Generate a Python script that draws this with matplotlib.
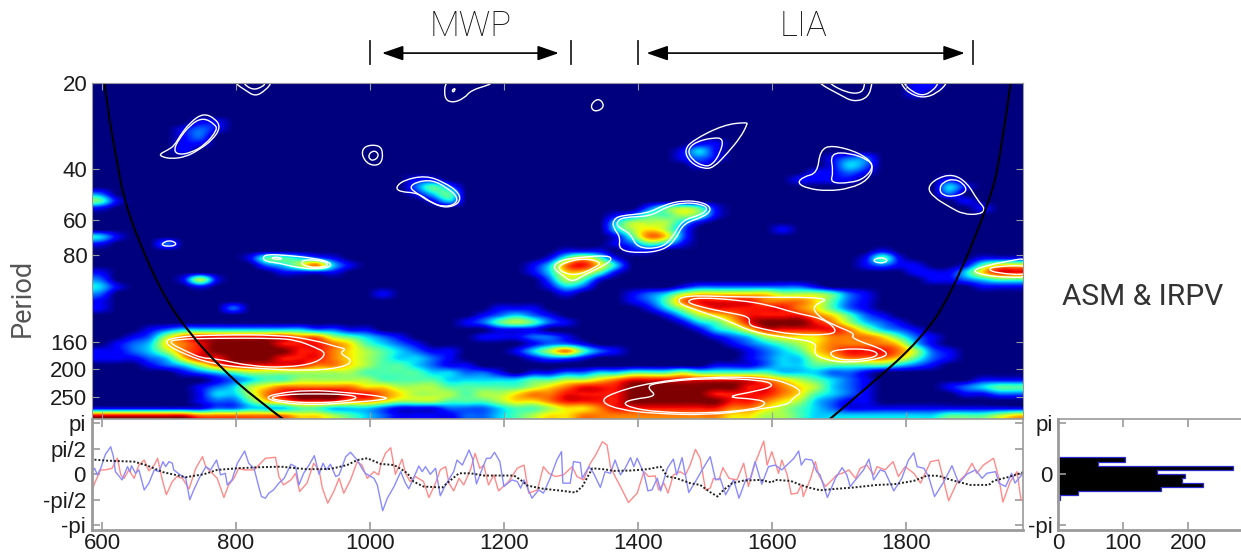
import numpy as np
import matplotlib
matplotlib.use("Agg")
import matplotlib.pyplot as plt
from matplotlib.path import Path
from matplotlib.patches import PathPatch

plt.rcParams["font.family"] = ["Liberation Sans", "DejaVu Sans"]

# wavelet power on a 56 x 47 grid, one digit per cell, 0 = dark blue, 9 = dark red
power_rows = [
    "00000000 00000000 00000000 00000000 00000000 00000000 01100000",
    "00000000 00000000 00000000 00000000 00000000 00000000 01000000",
    "00000000 00000000 00000000 00000000 00000000 00000000 00000000",
    "00000000 00000000 00000000 00000000 00000000 00000000 00000000",
    "00000000 00000000 00000000 00000000 00000000 00000000 00000000",
    "00000011 00000000 00000000 00000000 00000000 00000000 00000000",
    "00000121 00000000 00000000 00000000 00000000 00000000 00000000",
    "00000120 00000000 00000000 00000000 00000000 00000000 00000000",
    "00000110 00000000 00000000 00000000 00001100 00000000 00000000",
    "00000100 00000000 00000000 00000000 00013100 00000000 00000000",
    "00000000 00000000 00000000 00000000 00012100 00001220 00000000",
    "00000000 00000000 00000000 00000000 00001000 00001320 00000000",
    "00000000 00000000 00000000 00000000 00000000 00011210 00000000",
    "00000000 00000000 00011000 00000000 00000000 00111100 00010000",
    "00000000 00000000 00024200 00000000 00000000 00000000 00031000",
    "20000000 00000000 00013400 00000000 00000000 00000000 00020000",
    "41000000 00000000 00001300 00000000 00000000 00000000 00001000",
    "10000000 00000000 00000000 00000000 02454100 00000000 00000100",
    "00000000 00000000 00000000 00000001 24454100 00000000 00000000",
    "00000000 00000000 00000000 00000003 55531000 00000000 00000000",
    "00000000 00000000 00000000 00000003 56520000 01000000 00000000",
    "31000000 00000000 00000000 00000001 47620000 00000000 00000000",
    "10002000 00000000 00000000 00000001 24310000 00000000 00000000",
    "00000000 00000000 00000000 00001110 11000000 00000001 00000000",
    "00000000 01443210 00000000 00014641 00000000 00000014 10000111",
    "00000000 00235731 00000000 00137863 00000000 00000012 11001466",
    "10000000 00011110 00000000 00136641 00000000 00000000 01113688",
    "20000151 00000000 00000000 00025410 00000000 00000000 00112344",
    "31000010 00000000 00000000 00013200 00012222 22210000 00000111",
    "20000000 00000000 01000000 00001000 12356666 65554210 00000000",
    "10000000 00000000 00000000 00000000 12478888 77764210 00000000",
    "10000000 20000000 00000000 11100000 01357888 88764210 00000000",
    "00000000 00000000 00000001 23210000 00135678 88876421 00000000",
    "00000000 00000000 00000012 45421000 00013468 99987532 10000000",
    "00012333 33333221 10000000 11100000 00001346 88888753 21000000",
    "00125788 88887754 32100001 11221000 00000123 56667776 42100000",
    "01236789 99988876 43210000 00122100 00000012 34567777 63100000",
    "11235789 99998876 54321100 01357421 00000001 23467888 75210000",
    "11123688 99988876 54332100 00122100 00000001 23356777 64210000",
    "00012357 88888776 54432110 00000000 00000111 23344444 32100000",
    "00000123 45555555 44443322 10112233 44454444 43332210 00000000",
    "00000001 23445555 54444333 33445567 88888888 76543210 00000111",
    "00000012 35677777 66555444 44567888 99999998 87653210 00012344",
    "00000013 35789998 87655545 56778888 99999888 87643210 00001122",
    "00000012 24678887 76555444 56678888 99999988 76532110 00000000",
    "11111112 23334433 32111222 34456678 88888877 65432111 11111111",
    "88888877 77776654 32111122 34566777 77777766 55433333 33344456",
]

# significance contours, (years, periods)
ring_a_out = ([686, 698, 708, 717, 732, 751, 769, 777, 765, 744, 725, 704, 689],
              [35.4, 34.3, 33.1, 30.4, 27.4, 25.5, 26.6, 28.6, 31.6, 34.3, 36.2, 36.8, 36.2])
ring_a_in = ([707, 714, 732, 751, 769, 772, 754, 732, 714],
             [34.3, 31.6, 27.9, 26.4, 27.9, 29.2, 32.9, 35.1, 35.6])
ring_t1_out = ([798, 798, 814, 829, 844, 853, 853], [19, 20, 21.2, 22.3, 21.2, 20, 19])
ring_t1_in = ([810, 810, 825, 840, 844, 844], [19, 20, 21.2, 20.6, 20, 19])
ring_t2_out = ([1114, 1110, 1123, 1141, 1151, 1178, 1181, 1181], [19, 22.6, 23.5, 22.6, 21.2, 20.3, 20, 19])
ring_t2_in = ([1122, 1128, 1125], [21.2, 20.8, 21.6])
ring_t3_out = ([1669, 1669, 1702, 1722, 1744, 1750, 1750], [19, 20, 22.0, 23.3, 22.5, 20, 19])
ring_t3_in = ([1684, 1684, 1713, 1735, 1739, 1739], [19, 20, 21.7, 21.7, 20, 19])
ring_t4_out = ([1792, 1792, 1804, 1826, 1847, 1862, 1862], [19, 20, 21.7, 22.6, 21.7, 20, 19])
ring_t4_in = ([1796, 1796, 1810, 1826, 1841, 1849, 1849], [19, 20, 21.5, 22.2, 21.2, 20, 19])
ring_r1_out = ([987, 992, 1014, 1020, 1016, 998], [35.6, 33.1, 32.9, 35.1, 38.7, 38.7])
ring_r1_in = ([998, 1004, 1011, 1013, 1005, 999], [35.6, 34.5, 34.8, 36.2, 37.4, 36.8])
ring_r2 = ([1329, 1340, 1349, 1347, 1334], [23.9, 22.6, 23.5, 24.7, 25.2])
ring_b_out = ([1038, 1051, 1083, 1110, 1134, 1134, 1114, 1093, 1072, 1045],
              [46.3, 43.6, 42.1, 44.3, 48.4, 52.6, 54.7, 52.6, 48.4, 48.0])
ring_b_in = ([1059, 1069, 1093, 1114, 1131, 1128, 1110, 1090, 1069],
             [46.3, 44.3, 43.6, 46.3, 49.9, 53, 54.2, 52.2, 48.4])
ring_s1 = ([690, 699, 710, 710, 699, 690], [72.6, 70.8, 72, 73.8, 74.4, 73.8])
ring_h_out = ([840, 846, 875, 917, 941, 941, 917, 890, 865, 843],
              [81.2, 79.3, 79.9, 81.8, 84.5, 88, 89.3, 88, 85.2, 83.8])
ring_h_in1 = ([853, 866, 869, 856], [81.2, 81.2, 82.5, 82.5])
ring_h_in2 = ([895, 907, 931, 938, 931, 907], [84.5, 82.5, 83.8, 86, 88, 88])
ring_g_out = ([1272, 1284, 1314, 1356, 1362, 1341, 1319, 1302, 1287],
              [88, 83.1, 81.2, 79.9, 83.1, 88.7, 93.8, 99.2, 93.8])
ring_g_in = ([1280, 1292, 1319, 1347, 1334, 1310, 1289], [88, 84.5, 81.8, 84.5, 88.7, 93.8, 92.3])
ring_f_out = ([1363, 1374, 1414, 1438, 1468, 1498, 1511, 1498, 1468, 1456, 1438, 1404, 1371, 1374, 1363],
              [60.2, 58, 57.1, 53.4, 51.3, 52.2, 55.1, 58.8, 61.7, 70.8, 76.7, 78.6, 76.7, 69, 63.9])
ring_f_in = ([1368, 1378, 1419, 1441, 1468, 1496, 1505, 1493, 1466, 1451, 1434, 1399, 1389, 1371],
             [61.2, 58.8, 58.4, 54.3, 52.2, 53, 55.1, 57.9, 60.2, 69.7, 75.5, 75.5, 67, 63.9])
ring_c_out = ([1469, 1483, 1528, 1563, 1563, 1553, 1534, 1513, 1498, 1478],
              [34.3, 31.6, 28, 27.4, 28, 31, 35.1, 39.5, 39.9, 37.9])
ring_c_in = ([1474, 1486, 1513, 1528, 1523, 1511, 1498, 1481],
             [34.3, 32.1, 31, 31.3, 35.1, 38.7, 39.1, 37.1])
ring_d_out = ([1638, 1647, 1668, 1672, 1690, 1732, 1753, 1744, 1717, 1683, 1653],
              [44.7, 42.5, 41.3, 34.3, 32.9, 35.1, 38.7, 43.6, 46.7, 47.7, 46.7])
ring_d_in = ([1687, 1692, 1687, 1717, 1744, 1752, 1739, 1717],
             [44.7, 41, 35.1, 35.1, 37.1, 39.1, 43, 44.7])
ring_e_out = ([1832, 1847, 1871, 1892, 1907, 1919, 1911, 1886, 1866, 1841],
              [46.3, 42.9, 41.6, 44.7, 51.3, 55.1, 57.5, 57.5, 54.3, 50])
ring_e_in = ([1850, 1856, 1871, 1886, 1892, 1871, 1854], [46.7, 44.3, 43.2, 44.7, 48, 50, 49.2])
ring_s2 = ([1750, 1762, 1772, 1771, 1759], [83.1, 81.2, 82.5, 84.5, 85.2])
ring_edge_out = ([1985, 1950, 1922, 1898, 1916, 1951, 1985], [81.2, 84, 86.6, 90.4, 93.8, 95.4, 95.4])
ring_edge_in = ([1985, 1936, 1922, 1936, 1985], [86.6, 87.3, 89.3, 92.3, 93.8])
ring_m_out = ([690, 710, 768, 865, 917, 951, 965, 954, 975, 960, 907, 822, 768, 726],
              [161, 154, 151.5, 151.5, 158, 167, 169.7, 175.6, 186, 197, 202.6, 198, 192, 178.5])
ring_m_in = ([699, 710, 768, 859, 890, 917, 936, 920, 875, 822, 768, 750, 728],
             [161, 157, 155.6, 155.6, 158, 167, 175.6, 190, 197, 195, 183, 183, 174])
ring_n_out = ([843, 859, 907, 960, 1029, 1019, 960, 917, 869],
              [252, 243, 236, 240, 250, 256, 262, 266, 262])
ring_n_in = ([848, 869, 917, 971, 983, 960, 917, 875], [252, 245, 243, 245, 252, 259, 262, 259])
ring_u_out = ([1457, 1468, 1553, 1692, 1660, 1668, 1692, 1725, 1717, 1775, 1766, 1713, 1677, 1662, 1668, 1628, 1572, 1534, 1489],
              [117, 110, 112, 112, 119.5, 130, 140, 150, 155.6, 173, 183, 190, 184.5, 175.6, 161, 155.6, 148.5, 135, 124.5])
ring_u_in = ([1471, 1489, 1553, 1598, 1632, 1677, 1698, 1687, 1632, 1583, 1565, 1568, 1534, 1493],
             [116, 112, 114.7, 119.5, 126.6, 133, 146, 151.5, 151.5, 144, 140, 131, 126.6, 121])
ring_v_in = ([1683, 1702, 1744, 1762, 1742, 1702], [175.6, 169.7, 169.7, 177, 184.5, 186])
ring_l_out = ([1344, 1359, 1419, 1504, 1593, 1628, 1646, 1631, 1625, 1572, 1504, 1423, 1374],
              [260, 243, 222, 212, 214, 225, 240, 252, 266, 277, 289, 285, 277])
ring_l_in = ([1378, 1393, 1429, 1414, 1423, 1504, 1587, 1605, 1578, 1528, 1578, 1593, 1578, 1504, 1429, 1389],
             [262, 254, 248, 232, 223, 214, 218, 228, 238, 250, 254, 262, 275, 285, 282, 272])
rings = [ring_a_out, ring_a_in, ring_t1_out, ring_t1_in, ring_t2_out, ring_t2_in, ring_t3_out, ring_t3_in,
         ring_t4_out, ring_t4_in, ring_r1_out, ring_r1_in, ring_r2, ring_b_out, ring_b_in, ring_s1, ring_h_out,
         ring_h_in1, ring_h_in2, ring_g_out, ring_g_in, ring_f_out, ring_f_in, ring_c_out, ring_c_in, ring_d_out,
         ring_d_in, ring_e_out, ring_e_in, ring_s2, ring_edge_out, ring_edge_in, ring_m_out, ring_m_in, ring_n_out,
         ring_n_in, ring_u_out, ring_u_in, ring_v_in, ring_l_out, ring_l_in]

# cone of influence
coi_left_year = [603, 608, 622, 632, 656, 693, 731, 778, 828, 880]
coi_left_period = [19, 24.7, 37.1, 50.3, 72.7, 112, 150, 198, 252, 310]
coi_right_year = [1958, 1941, 1926, 1866, 1821, 1751, 1678]
coi_right_period = [19, 36.4, 51.3, 112, 158, 223, 310]

# phase series
blue_year = [583, 589, 593, 598, 605, 613, 617, 620, 630, 638, 642, 644, 650, 655, 663, 670, 678, 685, 691, 695, 700, 705, 707, 717, 725, 731, 737, 745, 755, 762, 771, 777, 784, 787, 794, 802, 813, 819, 827, 832, 838, 844, 849, 856, 864, 872, 882, 889, 894, 901, 909, 917, 924, 930, 935, 941, 949, 954, 964, 971, 981, 988, 993, 1006, 1011, 1019, 1026, 1036, 1046, 1053, 1058, 1065, 1073, 1078, 1083, 1090, 1098, 1105, 1113, 1125, 1130, 1138, 1148, 1153, 1159, 1167, 1174, 1180, 1186, 1194, 1200, 1212, 1220, 1225, 1230, 1242, 1252, 1259, 1269, 1279, 1286, 1288, 1299, 1304, 1314, 1317, 1327, 1334, 1344, 1351, 1359, 1366, 1374, 1381, 1389, 1394, 1399, 1409, 1415, 1421, 1429, 1434, 1444, 1453, 1458, 1466, 1476, 1486, 1496, 1508, 1516, 1523, 1531, 1543, 1551, 1561, 1568, 1575, 1585, 1595, 1605, 1615, 1633, 1640, 1644, 1650, 1660, 1667, 1672, 1683, 1695, 1705, 1712, 1717, 1727, 1737, 1745, 1752, 1762, 1769, 1782, 1794, 1804, 1812, 1817, 1827, 1834, 1843, 1857, 1869, 1879, 1891, 1904, 1914, 1921, 1934, 1939, 1949, 1958, 1963, 1973]
blue_phase = [0, .37, -.04, .37, 1.23, 1.70, 1.09, .16, -.35, .47, .16, .53, .06, .27, -.97, -.55, .27, .16, .78, .47, .78, .68, .27, -.04, -.25, -1.58, -.97, -.25, .47, .27, .88, -.04, .06, -.66, -.35, .68, 1.44, .68, .37, -.45, -1.38, -1.48, -1.17, -.97, -.55, -.25, .62, .47, -.66, .06, .57, 1.15, 0, .68, .27, .62, -.14, -.04, 1.09, 1.36, .88, .37, .06, -.25, -.66, -2.26, -1.48, -.76, .16, -.55, -.90, -.25, .51, .16, .47, 0, .37, -1.33, -.66, .16, .88, .57, 1.50, .99, -.60, .27, .99, .99, 1.36, .78, -.76, -.35, -.45, -.86, -.35, -1.48, -.97, -1.17, -.25, .88, 1.40, -.55, -.55, .78, .72, -.25, .47, .06, -.82, .16, .06, .88, -.04, .37, 1.03, .47, .99, .06, -1.03, -.97, -.25, -1.03, .37, .94, -.04, 1.03, -1.13, -.45, .27, 1.09, -.35, -.25, -1.27, -.35, -1.48, -.35, -.25, .78, -.62, .47, .57, .27, .99, 1.44, .57, .94, .88, .16, -.04, -1.44, -.25, .41, -.04, -.76, -.25, .27, .94, -.35, .27, .16, -1.03, -.25, .88, 1.33, .47, .37, -.14, -1.38, -.45, .53, -.55, 0, .27, -.25, .06, .16, -.55, -.76, .06, -.55, -.04]
red_year = [583, 590, 598, 605, 615, 623, 628, 633, 640, 648, 655, 663, 670, 678, 683, 690, 696, 705, 712, 720, 730, 740, 750, 755, 762, 772, 782, 789, 797, 804, 812, 827, 834, 844, 859, 864, 871, 882, 889, 895, 906, 916, 924, 929, 937, 946, 954, 961, 971, 981, 988, 996, 1006, 1013, 1016, 1023, 1031, 1038, 1048, 1053, 1060, 1068, 1080, 1088, 1098, 1105, 1113, 1118, 1125, 1133, 1140, 1150, 1157, 1164, 1170, 1177, 1185, 1192, 1207, 1220, 1230, 1237, 1250, 1259, 1267, 1277, 1289, 1302, 1309, 1319, 1329, 1337, 1347, 1354, 1359, 1366, 1374, 1386, 1399, 1409, 1416, 1426, 1431, 1439, 1445, 1453, 1463, 1471, 1478, 1486, 1493, 1501, 1508, 1513, 1521, 1527, 1536, 1548, 1558, 1565, 1575, 1588, 1593, 1600, 1610, 1615, 1623, 1629, 1638, 1644, 1647, 1658, 1665, 1670, 1680, 1690, 1697, 1705, 1715, 1725, 1732, 1742, 1752, 1757, 1769, 1781, 1789, 1799, 1812, 1822, 1837, 1849, 1857, 1864, 1876, 1889, 1899, 1906, 1916, 1931, 1939, 1945, 1956, 1966, 1972, 1976]
red_phase = [-1.23, -.45, .27, .27, .37, .99, -.04, -.25, .27, -.25, .57, .88, .21, .57, .99, -.35, -1.27, -.45, -.14, -.25, -.90, .37, 1.09, .47, .16, -.25, -1.44, -.66, -.25, .37, .27, .27, .57, .99, 1.05, -.14, -.66, -.35, .06, -1.07, -.55, .68, .27, -.86, -1.79, -1.07, -.25, -1.17, -.35, .78, .57, -.25, .16, -.04, .57, 1.29, 1.64, 0, .94, .06, -.45, -.14, -.45, -1.44, -.55, .27, .47, -.55, -1.03, -.25, -.66, .27, 1.29, .37, .57, -.66, -.04, -1.03, -.45, .37, .57, -1.17, -.97, .47, .06, -.14, -.04, .47, -.14, -.35, .68, 1.19, 2.01, 1.81, .47, -.14, -.76, -1.75, -1.17, .16, -.14, -.10, -.97, -.55, -1.17, -.04, .16, -.04, .57, 1.54, .99, -.97, -.86, -.25, -.35, .41, -.25, -.35, .68, -.76, .68, 2.05, .57, 1.40, .06, .88, -.04, -1.23, -1.17, -.66, -1.38, -.25, .78, -.04, -.76, -.35, -.04, .06, .27, -.25, .37, .57, -.04, .47, .27, .78, -.14, .47, .06, -.55, .78, .88, -.45, -1.64, -.55, -.04, .68, .06, .57, .99, -.25, -1.72, -.45, .16, -1.58, -1.58]
diff_year = [583, 608, 648, 668, 692, 725, 752, 772, 802, 832, 867, 906, 941, 966, 981, 996, 1016, 1036, 1046, 1056, 1065, 1080, 1108, 1118, 1133, 1150, 1170, 1215, 1225, 1235, 1259, 1284, 1307, 1317, 1332, 1349, 1364, 1389, 1414, 1434, 1444, 1458, 1478, 1493, 1508, 1519, 1528, 1541, 1558, 1583, 1600, 1605, 1628, 1643, 1655, 1672, 1697, 1722, 1757, 1782, 1812, 1832, 1849, 1871, 1896, 1924, 1931, 1956, 1975]
diff_phase = [.92, .84, .78, .53, .12, -.18, 0, .27, .37, .43, .47, .31, .33, .57, .88, .99, .64, .57, .33, .06, -.45, -.76, -.82, -.45, .06, .06, -.08, -.08, -.35, -.70, -.90, -1.01, -1.13, -.76, .37, .31, .21, .23, .31, .47, -.14, -.25, -.55, -.66, -1.11, -1.38, -.97, -.55, -.39, -.35, -.51, -.35, -.41, -.66, -.82, -.99, -.90, -.82, -.66, -.62, -.41, -.08, -.10, -.39, -.66, -.66, -.41, -.14, .12]

# phase histogram, low to high
hist_edges = [-1.571, -1.309, -1.047, -0.785, -0.524, -0.262, 0.0, 0.262, 0.524, 0.785, 1.047]
hist_count = [3, 30, 159, 223, 191, 195, 153, 269, 62, 103]

x_ticks = [600, 800, 1000, 1200, 1400, 1600, 1800]
period_ticks = [20, 40, 60, 80, 160, 200, 250]
phase_ticks = [np.pi, np.pi / 2, 0, -np.pi / 2, -np.pi]
phase_labels = ["pi", "pi/2", "0", "-pi/2", "-pi"]
hist_ticks = [0, 100, 200]
period_names = ["MWP", "LIA"]
period_start = [1000, 1400]
period_end = [1300, 1900]
arrow_start = [1018, 1413]
arrow_end = [1282, 1888]
name_year = [1150, 1648]

W, H = 1241, 556
GREY = "#9a9a9a"
TEXT = "#1c1c1c"
FS = 16
X0, X1 = 584.3, 1975
Y0, Y1 = np.log2(20), np.log2(298)


def style_box(ax):
    for s in ax.spines.values():
        s.set_color(GREY)
        s.set_linewidth(1.2)
    ax.tick_params(direction="in", length=6, width=1.2, color=GREY, labelsize=FS, labelcolor=TEXT, pad=2.5)


def soft_line(xs, ys, closed):
    # quadratic bezier through the midpoints, the typed points are the control points
    pts = list(zip(xs, ys))
    if closed:
        start = ((pts[-1][0] + pts[0][0]) / 2, (pts[-1][1] + pts[0][1]) / 2)
        verts, codes = [start], [Path.MOVETO]
        for i, p in enumerate(pts):
            q = pts[(i + 1) % len(pts)]
            verts += [p, ((p[0] + q[0]) / 2, (p[1] + q[1]) / 2)]
            codes += [Path.CURVE3, Path.CURVE3]
    else:
        verts, codes = [pts[0]], [Path.MOVETO]
        for i in range(1, len(pts) - 1):
            p, q = pts[i], pts[i + 1]
            end = q if i == len(pts) - 2 else ((p[0] + q[0]) / 2, (p[1] + q[1]) / 2)
            verts += [p, end]
            codes += [Path.CURVE3, Path.CURVE3]
    return Path(verts, codes)


fig = plt.figure(figsize=(W / 100, H / 100), dpi=100)
ax = fig.add_axes([91.5 / W, (H - 419) / H, 931.5 / W, 336 / H])
ax_ph = fig.add_axes([91.5 / W, (H - 530) / H, 931.5 / W, 111 / H])
ax_hist = fig.add_axes([1058 / W, (H - 530) / H, 183 / W, 111 / H])

power = np.array([[int(c) for c in r.replace(" ", "")] for r in power_rows], dtype=float)
ax.imshow(power, cmap="jet", vmin=0, vmax=9, aspect="auto", interpolation="spline16",
          extent=[X0, X1, Y1, Y0])
for yrs, pers in rings:
    ax.add_patch(PathPatch(soft_line(yrs, np.log2(pers), True), fc="none", ec="white", lw=1.0))
ax.add_patch(PathPatch(soft_line(coi_left_year, np.log2(coi_left_period), False), fc="none", ec="black", lw=1.5))
ax.add_patch(PathPatch(soft_line(coi_right_year, np.log2(coi_right_period), False), fc="none", ec="black", lw=1.5))
ax.set_xlim(X0, X1)
ax.set_ylim(Y1, Y0)
ax.set_xticks(x_ticks)
ax.set_xticklabels([])
ax.set_yticks(np.log2(period_ticks))
ax.set_yticklabels(period_ticks)
style_box(ax)
ax.tick_params(top=True, right=True, bottom=True, length=5, width=0.8, pad=3)
for s in ax.spines.values():
    s.set_linewidth(0.8)

tr = ax.get_xaxis_transform()
for name, s, e, a0, a1, nx in zip(period_names, period_start, period_end, arrow_start, arrow_end, name_year):
    ax.plot([s, s], [1.057, 1.125], transform=tr, color="#222222", lw=1.3, clip_on=False)
    ax.plot([e, e], [1.057, 1.125], transform=tr, color="#222222", lw=1.3, clip_on=False)
    ax.annotate("", xy=(a1, 1.089), xytext=(a0, 1.089), xycoords=tr, textcoords=tr,
                arrowprops=dict(arrowstyle="<|-|>,head_length=1.3,head_width=0.45", color="black", lw=1.2,
                                shrinkA=0, shrinkB=0))
    ax.text(nx, 1.17, name, transform=tr, ha="center", va="center", fontsize=25, color="#111111",
            family="Roboto", weight="light")

ax_ph.plot(red_year, red_phase, color="#ff8a8a", lw=1.0)
ax_ph.plot(blue_year, blue_phase, color="#8a8aff", lw=1.0)
ax_ph.plot(diff_year, diff_phase, color="#222222", lw=1.4, ls=(0, (1, 1)))
ax_ph.set_xlim(X0, X1)
ax_ph.set_ylim(-3.45, 3.42)
ax_ph.set_xticks(x_ticks)
ax_ph.set_yticks(phase_ticks)
ax_ph.set_yticklabels(phase_labels)
style_box(ax_ph)
ax_ph.tick_params(top=True, right=True)
ax_ph.tick_params(axis="y", pad=4)
ax_ph.spines["left"].set_linewidth(2)
ax_ph.spines["bottom"].set_linewidth(2)

ax_hist.stairs(hist_count, hist_edges, orientation="horizontal", fill=True, color="black")
ax_hist.stairs(hist_count, hist_edges, orientation="horizontal", color="#2a2ad0", lw=0.9)
ax_hist.set_xlim(0, 281.5)
ax_hist.set_ylim(-3.45, 3.42)
ax_hist.set_xticks(hist_ticks)
ax_hist.set_yticks([np.pi, 0, -np.pi])
ax_hist.set_yticklabels(["pi", "0", "-pi"])
style_box(ax_hist)
ax_hist.tick_params(top=True)
ax_hist.tick_params(axis="y", pad=4)
ax_hist.spines["right"].set_visible(False)
ax_hist.spines["left"].set_linewidth(2)
ax_hist.spines["bottom"].set_linewidth(2)

fig.text(22 / W, (H - 298) / H, "Period", rotation=90, ha="center", va="center", fontsize=19.5, color="#555555",
         family="Roboto")
fig.text(1143 / W, (H - 297) / H, "ASM & IRPV", ha="center", va="center", fontsize=21.5, color="#333333",
         family="Roboto")

fig.savefig("out.png", dpi=100)
